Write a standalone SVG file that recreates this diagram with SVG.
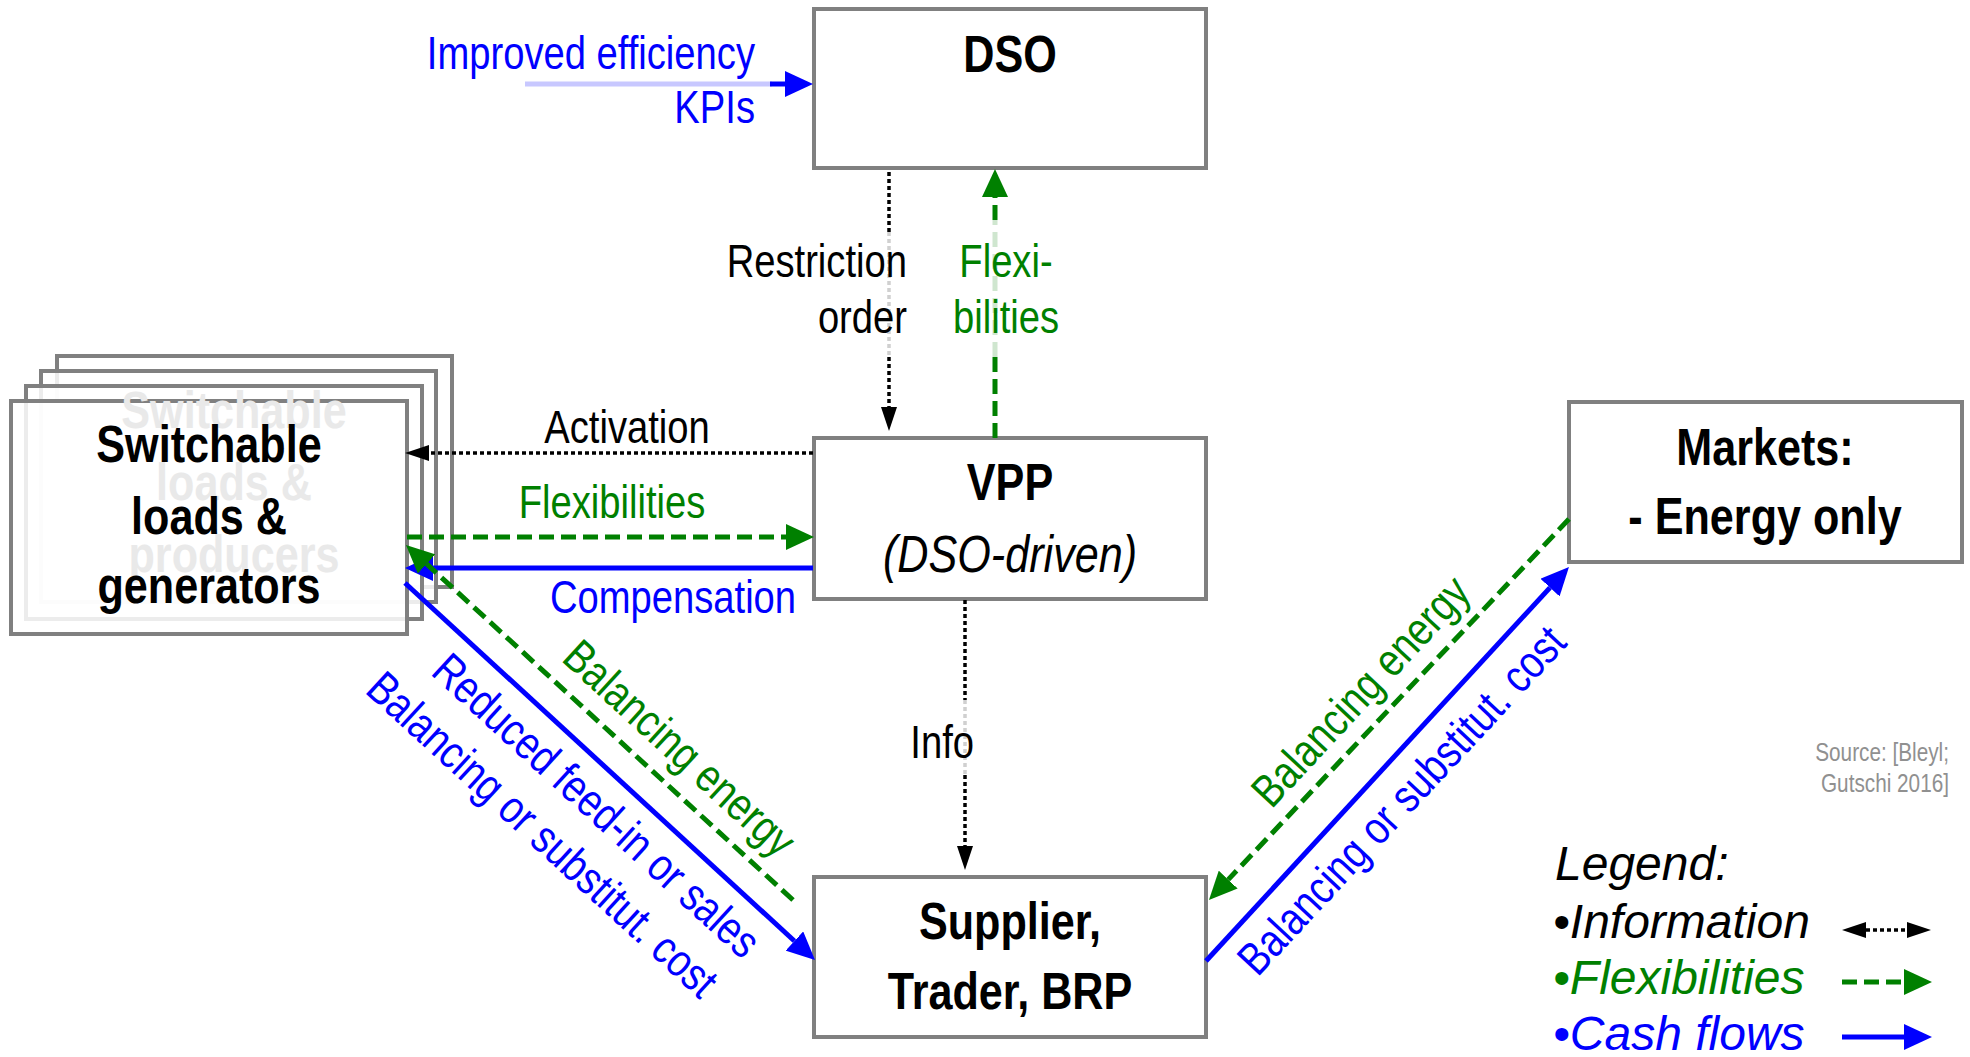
<svg xmlns="http://www.w3.org/2000/svg" width="1970" height="1057" viewBox="0 0 1970 1057">
<style>
.box{fill:#fff;stroke:#808080;stroke-width:4}
.stack{fill:#fff;fill-opacity:0.85;stroke:#808080;stroke-width:4}
text{font-family:"Liberation Sans",Arial,sans-serif}
.title{font-weight:bold;font-size:52px;fill:#000}
.ghost{font-weight:bold;font-size:52px;fill:#e9e9e9}
.lbl{font-size:46px}
.blk{fill:#000}.grn{fill:#008000}.blu{fill:#0000ff}
.info{stroke:#000;stroke-width:3.5;stroke-dasharray:4 3;fill:none}
.infol{stroke:#d0d0d0;stroke-width:3.5;stroke-dasharray:4 3;fill:none}
.flex{stroke:#008000;stroke-width:5;stroke-dasharray:15 7;fill:none}
.flexl{stroke:#cfe6cf;stroke-width:5;stroke-dasharray:15 7;fill:none}
.cash{stroke:#0000ff;stroke-width:5;fill:none}
.leg{font-size:48px;font-style:italic}
</style>
<defs>
<marker id="ab" markerUnits="userSpaceOnUse" markerWidth="28" markerHeight="26" viewBox="0 0 28 26" refX="0" refY="13" orient="auto"><path d="M0,0L28,13L0,26z" fill="#0000ff"/></marker>
<marker id="ag" markerUnits="userSpaceOnUse" markerWidth="28" markerHeight="26" viewBox="0 0 28 26" refX="0" refY="13" orient="auto"><path d="M0,0L28,13L0,26z" fill="#008000"/></marker>
<marker id="ak" markerUnits="userSpaceOnUse" markerWidth="24" markerHeight="16" viewBox="0 0 24 16" refX="0" refY="8" orient="auto-start-reverse"><path d="M0,0L24,8L0,16z" fill="#000"/></marker>
</defs>

<g id="switchable">
<rect class="stack" x="57" y="356" width="395" height="231"/>
<rect class="stack" x="41" y="371" width="395" height="231"/>
<rect class="stack" x="26" y="386" width="396" height="233"/>
<rect class="stack" x="11" y="401" width="396" height="233"/>
<g class="ghost" text-anchor="middle">
<text transform="translate(234,428) scale(0.83,1)">Switchable</text>
<text transform="translate(234,500) scale(0.83,1)">loads &amp;</text>
<text transform="translate(234,572) scale(0.83,1)">producers</text>
</g>
<g class="title" text-anchor="middle">
<text transform="translate(209,462) scale(0.83,1)">Switchable</text>
<text transform="translate(209,534) scale(0.83,1)">loads &amp;</text>
<text transform="translate(209,603) scale(0.83,1)">generators</text>
</g>
</g>

<g id="dso">
<rect class="box" x="814" y="9" width="392" height="159"/>
<text class="title" text-anchor="middle" transform="translate(1010,72) scale(0.83,1)">DSO</text>
</g>

<g id="vpp">
<rect class="box" x="814" y="438" width="392" height="161"/>
<text class="title" text-anchor="middle" transform="translate(1010,500) scale(0.83,1)">VPP</text>
<text text-anchor="middle" font-size="52" font-style="italic" transform="translate(1010,572) scale(0.83,1)">(DSO-driven)</text>
</g>

<g id="supplier">
<rect class="box" x="814" y="877" width="392" height="160"/>
<text class="title" text-anchor="middle" transform="translate(1010,939) scale(0.83,1)">Supplier,</text>
<text class="title" text-anchor="middle" transform="translate(1010,1009) scale(0.83,1)">Trader, BRP</text>
</g>

<g id="markets">
<rect class="box" x="1569" y="402" width="393" height="160"/>
<text class="title" text-anchor="middle" transform="translate(1765,465) scale(0.83,1)">Markets:</text>
<text class="title" text-anchor="middle" transform="translate(1765,534) scale(0.83,1)">- Energy only</text>
</g>

<g id="connectors">
<line x1="525" y1="84" x2="772" y2="84" stroke="#c8c8ff" stroke-width="5"/>
<line class="cash" x1="770" y1="84" x2="785" y2="84" marker-end="url(#ab)"/>
<line class="info" x1="889" y1="172" x2="889" y2="232"/>
<line class="infol" x1="889" y1="232" x2="889" y2="357"/>
<line class="info" x1="889" y1="357" x2="889" y2="407" marker-end="url(#ak)"/>
<line class="flex" x1="995" y1="438" x2="995" y2="357"/>
<line class="flexl" x1="995" y1="357" x2="995" y2="220"/>
<line class="flex" x1="995" y1="220" x2="995" y2="197" marker-end="url(#ag)"/>
<line class="info" x1="813" y1="453" x2="429" y2="453" marker-end="url(#ak)"/>
<line class="flex" x1="407" y1="537" x2="786" y2="537" marker-end="url(#ag)"/>
<line class="cash" x1="813" y1="568" x2="433" y2="568" marker-end="url(#ab)"/>
<line class="flex" x1="793" y1="900" x2="426.6" y2="563.9" marker-end="url(#ag)"/>
<line class="cash" x1="405" y1="583" x2="794.4" y2="941" marker-end="url(#ab)"/>
<line class="info" x1="965" y1="600" x2="965" y2="700"/>
<line class="infol" x1="965" y1="700" x2="965" y2="775"/>
<line class="info" x1="965" y1="775" x2="965" y2="846" marker-end="url(#ak)"/>
<line class="flex" x1="1569" y1="519" x2="1228.2" y2="879.6" marker-end="url(#ag)"/>
<line class="cash" x1="1206" y1="961" x2="1550" y2="587.6" marker-end="url(#ab)"/>
</g>

<g id="labels" class="lbl">
<text class="blu" text-anchor="end" transform="translate(755,69) scale(0.83,1)">Improved efficiency</text>
<text class="blu" text-anchor="end" transform="translate(755,123) scale(0.83,1)">KPIs</text>
<text class="blk" text-anchor="end" transform="translate(907,277) scale(0.83,1)">Restriction</text>
<text class="blk" text-anchor="end" transform="translate(907,333) scale(0.83,1)">order</text>
<text class="grn" text-anchor="middle" transform="translate(1006,277) scale(0.83,1)">Flexi-</text>
<text class="grn" text-anchor="middle" transform="translate(1006,333) scale(0.83,1)">bilities</text>
<text class="blk" text-anchor="middle" transform="translate(627,443) scale(0.83,1)">Activation</text>
<text class="grn" text-anchor="middle" transform="translate(612,518) scale(0.83,1)">Flexibilities</text>
<text class="blu" text-anchor="middle" transform="translate(673,613) scale(0.83,1)">Compensation</text>
<text class="blk" text-anchor="end" transform="translate(974,758) scale(0.83,1)">Info</text>
<text class="grn" text-anchor="middle" transform="translate(669,760) rotate(42.5) scale(0.83,1)">Balancing energy</text>
<text class="blu" text-anchor="middle" transform="translate(586,817) rotate(42.5) scale(0.83,1)">Reduced feed-in or sales</text>
<text class="blu" text-anchor="middle" transform="translate(532,846) rotate(42.5) scale(0.83,1)">Balancing or substitut. cost</text>
<text class="grn" text-anchor="middle" transform="translate(1372,702) rotate(-47) scale(0.83,1)">Balancing energy</text>
<text class="blu" text-anchor="middle" transform="translate(1413,811) rotate(-47) scale(0.83,1)">Balancing or substitut. cost</text>
</g>

<g id="source" fill="#909090" font-size="25">
<text text-anchor="end" transform="translate(1949,761) scale(0.83,1)">Source: [Bleyl;</text>
<text text-anchor="end" transform="translate(1949,792) scale(0.83,1)">Gutschi 2016]</text>
</g>

<g id="legend">
<text class="leg blk" x="1555" y="880">Legend:</text>
<text class="leg blk" x="1553" y="938">•Information</text>
<text class="leg grn" x="1553" y="994">•Flexibilities</text>
<text class="leg blu" x="1553" y="1050">•Cash flows</text>
<line class="info" x1="1866" y1="930" x2="1907" y2="930" marker-start="url(#ak)" marker-end="url(#ak)"/>
<line class="flex" x1="1842" y1="982" x2="1904" y2="982" marker-end="url(#ag)"/>
<line class="cash" x1="1842" y1="1037" x2="1904" y2="1037" marker-end="url(#ab)"/>
</g>
</svg>
